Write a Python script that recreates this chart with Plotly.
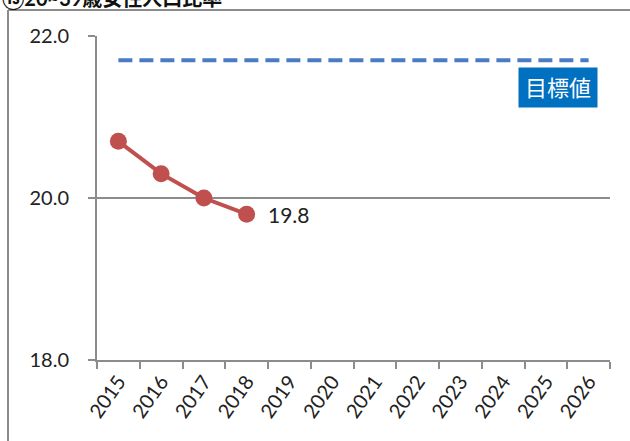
import plotly.graph_objects as go

# Data
years = [str(y) for y in range(2015, 2027)]
actual_years = ["2015", "2016", "2017", "2018"]
actual_values = [20.7, 20.3, 20.0, 19.8]
target_value = 21.7
target_label = "目標値"
title_text = "⑬20~39歳女性人口比率"
y_ticks = [18.0, 20.0, 22.0]

GRAY = "#8c8c8c"
RED = "#c0504d"
BLUE = "#4a7cc4"
FONT = "Lato, 'Noto Sans CJK JP', sans-serif"

W, H = 630, 441
ML, MR, MT, MB = 97, 20, 36, 81
PW, PH = W - ML - MR, H - MT - MB


def px_x(px):
    return (px - ML) / PW


def px_y(py):
    return (H - MB - py) / PH


fig = go.Figure()

# Target line
fig.add_trace(go.Scatter(
    x=years, y=[target_value] * len(years), mode="lines",
    line=dict(color=BLUE, width=4, dash="14px,7px"),
    hoverinfo="skip", showlegend=False,
))

# Actual values
fig.add_trace(go.Scatter(
    x=actual_years, y=actual_values, mode="lines+markers",
    line=dict(color=RED, width=4),
    marker=dict(color=RED, size=17),
    showlegend=False,
))

# Value label for the latest point (category axis position given by index)
fig.add_annotation(
    text=f"{actual_values[-1]:.1f}",
    x=years.index(actual_years[-1]), y=actual_values[-1],
    xanchor="left", yanchor="middle", xshift=19, showarrow=False,
    font=dict(size=21, color="#222222", family=FONT),
)

fig.update_xaxes(
    type="category", categoryorder="array", categoryarray=years,
    range=[-0.5, len(years) - 0.5],
    showline=True, linecolor=GRAY, linewidth=2,
    ticks="outside", ticklen=7, tickcolor=GRAY, tickwidth=2,
    tickson="boundaries", showgrid=False,
    tickangle=-55, tickfont=dict(size=20, color="#222222", family=FONT),
)
fig.update_yaxes(
    range=[18, 22], tickvals=y_ticks, tickformat=".1f",
    showline=True, linecolor=GRAY, linewidth=2,
    ticks="outside", ticklen=7, tickcolor=GRAY, tickwidth=2,
    showgrid=True, gridcolor=GRAY, gridwidth=2, zeroline=False,
    ticklabelstandoff=15,
    tickfont=dict(size=20, color="#222222", family=FONT),
)

# Outer frame (top and left edges)
fig.add_shape(type="line", xref="paper", yref="paper",
              x0=px_x(8), x1=px_x(W + 2), y0=px_y(10), y1=px_y(10),
              line=dict(color=GRAY, width=2))
fig.add_shape(type="line", xref="paper", yref="paper",
              x0=px_x(8), x1=px_x(8), y0=px_y(10), y1=px_y(H + 2),
              line=dict(color=GRAY, width=2))

# Title
fig.add_annotation(
    text=f"<b>{title_text}</b>", xref="paper", yref="paper",
    x=px_x(0), y=px_y(-1), xanchor="left", yanchor="middle",
    showarrow=False, font=dict(size=20, color="#111111", family=FONT),
)

# Target label
fig.add_annotation(
    text=target_label, xref="paper", yref="paper",
    x=px_x(558), y=px_y(87), xanchor="center", yanchor="middle",
    showarrow=False, bgcolor="#0070c0", borderpad=6,
    font=dict(size=22, color="white", family=FONT),
)

fig.update_layout(
    width=W, height=H,
    margin=dict(l=ML, r=MR, t=MT, b=MB),
    paper_bgcolor="white", plot_bgcolor="white",
    font=dict(family=FONT),
)

fig.write_html("out.html")
